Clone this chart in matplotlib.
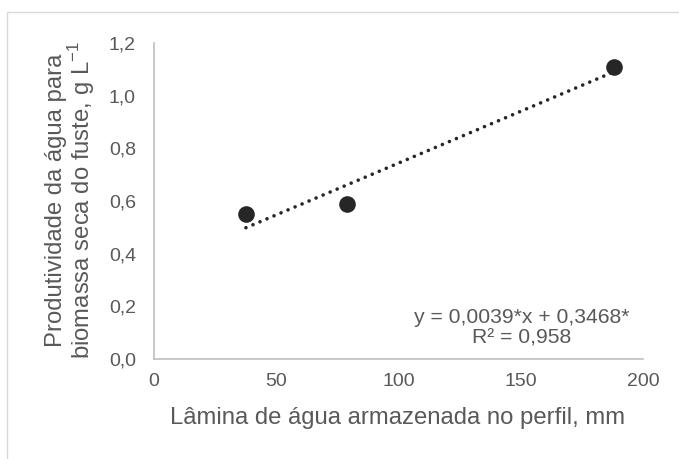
import numpy as np
import matplotlib
matplotlib.use("Agg")
import matplotlib.pyplot as plt
from matplotlib.patches import Rectangle

# data
lamina = [37.6, 78.9, 188.1]
produtividade = [0.55, 0.59, 1.11]

xticks = [0, 50, 100, 150, 200]
yticks = [0.0, 0.2, 0.4, 0.6, 0.8, 1.0, 1.2]
ytick_labels = ["0,0", "0,2", "0,4", "0,6", "0,8", "1,0", "1,2"]

eq_text = "y = 0,0039*x + 0,3468*\nR² = 0,958"
xlabel = "Lâmina de água armazenada no perfil, mm"
ylabel = "Produtividade da água para\nbiomassa seca do fuste, g L$^{\\mathregular{-1}}$"

plt.rcParams["font.family"] = ["Liberation Sans", "DejaVu Sans"]
plt.rcParams["mathtext.fontset"] = "custom"
plt.rcParams["mathtext.rm"] = "Liberation Sans"

text_color = "#595959"
spine_color = "#BFBFBF"

W, H = 679, 459
fig = plt.figure(figsize=(W / 100, H / 100), dpi=100)
ax = fig.add_axes([154 / W, 1 - 359 / H, (643 - 154) / W, (359 - 43) / H])

# outer chart-area border (only top/left fall inside the picture)
fig.patches.append(Rectangle((7 / W, -0.1), 1.2, 1 - 12 / H + 0.1, transform=fig.transFigure,
                             fill=False, edgecolor="#D9D9D9", linewidth=1.0))

ax.scatter(lamina, produtividade, s=120, color="#262626", zorder=3)

# linear trendline
coef = np.polyfit(lamina, produtividade, 1)
xs = np.array([min(lamina), max(lamina)])
ax.plot(xs, np.polyval(coef, xs), color="#262626", linewidth=2.6,
        linestyle=(0, (0.01, 2.1)), dash_capstyle="round", zorder=2)

ax.set_xlim(0, 200)
ax.set_ylim(0, 1.2)
ax.set_xticks(xticks)
ax.set_xticklabels([str(v) for v in xticks])
ax.set_yticks(yticks)
ax.set_yticklabels(ytick_labels)
ax.tick_params(length=0, labelsize=14, labelcolor=text_color)
ax.tick_params(axis="y", pad=13)
ax.tick_params(axis="x", pad=10)

for side in ["top", "right"]:
    ax.spines[side].set_visible(False)
for side in ["left", "bottom"]:
    ax.spines[side].set_color(spine_color)
    ax.spines[side].set_linewidth(1.2)

fig.text(398 / W, 1 - 418 / H, xlabel, ha="center", va="center", fontsize=17.2, color=text_color)
fig.text(71 / W, 1 - 200 / H, ylabel, ha="center", va="center", rotation=90,
         fontsize=17.2, color=text_color, linespacing=1.0)

fig.text(522 / W, 1 - 328 / H, eq_text, ha="center", va="center", fontsize=15.2,
         color=text_color, linespacing=1.1)

fig.savefig("out.png", dpi=100, facecolor="white")
